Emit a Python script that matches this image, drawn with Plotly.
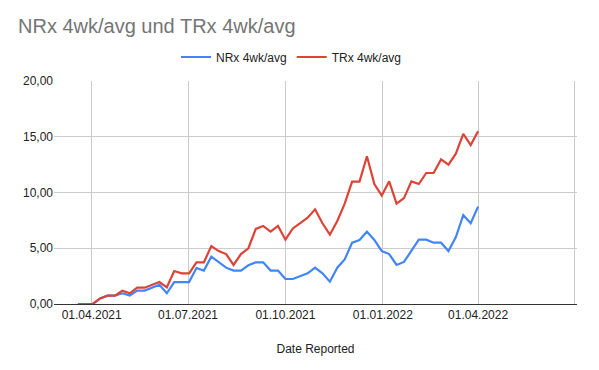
import plotly.graph_objects as go
import pandas as pd

dates = pd.date_range("2021-03-19", periods=55, freq="7D")

nrx = [0, 0, 0, 0.5, 0.75, 0.75, 0.96, 0.75, 1.2, 1.2,
       1.46, 1.73, 0.96, 1.97, 1.97, 1.97, 3.23, 3.0, 4.25, 3.74,
       3.26, 3.0, 3.0, 3.47, 3.74, 3.74, 3.0, 3.0, 2.24, 2.24,
       2.51, 2.75, 3.26, 2.75, 2.0, 3.26, 4.0, 5.5, 5.74, 6.49,
       5.74, 4.75, 4.48, 3.5, 3.77, 4.78, 5.77, 5.77, 5.5, 5.5,
       4.75, 6.0, 7.98, 7.24, 8.73]

trx = [0, 0, 0, 0.5, 0.75, 0.75, 1.2, 0.96, 1.46, 1.46,
       1.73, 1.97, 1.5, 2.96, 2.75, 2.75, 3.74, 3.74, 5.2, 4.75,
       4.48, 3.5, 4.48, 5.0, 6.73, 7.0, 6.49, 7.0, 5.77, 6.78,
       7.26, 7.74, 8.49, 7.24, 6.22, 7.45, 9.0, 10.97, 10.97, 13.25,
       10.76, 9.73, 11.0, 9.0, 9.5, 11.0, 10.76, 11.75, 11.75, 12.97,
       12.5, 13.48, 15.25, 14.26, 15.49]

tick_vals = ["2021-04-01", "2021-07-01", "2021-10-01", "2022-01-01", "2022-04-01", "2022-07-01"]
tick_text = ["01.04.2021", "01.07.2021", "01.10.2021", "01.01.2022", "01.04.2022", ""]

y_ticks = [0, 5, 10, 15, 20]

font_family = "Liberation Sans, Arial, sans-serif"

fig = go.Figure()
fig.add_trace(go.Scatter(x=dates, y=nrx, mode="lines", name="NRx 4wk/avg",
                         line=dict(color="#4285F4", width=2.2)))
fig.add_trace(go.Scatter(x=dates, y=trx, mode="lines", name="TRx 4wk/avg",
                         line=dict(color="#DB4437", width=2.2)))

fig.update_layout(
    width=599, height=370,
    margin=dict(l=54, r=22, t=81, b=66, autoexpand=False),
    paper_bgcolor="white", plot_bgcolor="white",
    font=dict(family=font_family, size=12, color="#222222"),
    title=dict(text="NRx 4wk/avg und TRx 4wk/avg", x=18/599, xanchor="left",
               y=1-26/370, yanchor="middle",
               font=dict(size=20, color="#757575")),
    legend=dict(orientation="h", x=0.5 - 8/599, xanchor="center", xref="container",
                y=1-57/370, yanchor="middle", yref="container",
                font=dict(size=12, color="#222222"), itemwidth=30),
    showlegend=True,
)

fig.update_xaxes(
    range=["2021-02-24 10:00", "2022-07-03 10:00"],
    tickvals=tick_vals, ticktext=tick_text,
    showgrid=True, gridcolor="#cccccc", gridwidth=1,
    showline=True, linecolor="#333333", linewidth=1,
    ticks="", tickfont=dict(size=12, color="#222222"),
    title=dict(text="Date Reported", font=dict(size=12, color="#222222"), standoff=23),
    zeroline=False, automargin=False,
)
fig.update_yaxes(
    range=[0, 20], tickvals=y_ticks, tickformat=".2f",
    showgrid=True, gridcolor="#cccccc", gridwidth=1,
    zeroline=True, zerolinecolor="#333333", zerolinewidth=1,
    ticks="", tickfont=dict(size=12, color="#222222"), automargin=False,
)
fig.update_layout(separators=",.")

fig.write_html("out.html", config={"displayModeBar": False},
               post_script="document.body.style.margin='0';")
